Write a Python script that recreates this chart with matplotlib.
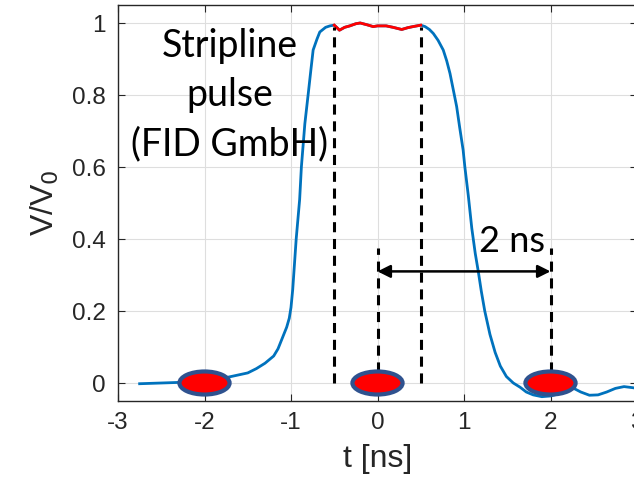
import matplotlib.pyplot as plt
from matplotlib.patches import Ellipse

t_ns = [-2.75, -2.5, -2.25, -2.0, -1.75, -1.5, -1.4, -1.3, -1.2, -1.15, -1.1,
        -1.05, -1.02, -1.0, -0.98, -0.96, -0.94, -0.9, -0.88, -0.84, -0.8,
        -0.77, -0.744, -0.7, -0.667, -0.6, -0.55, -0.5, -0.46, -0.44, -0.38,
        -0.32, -0.25, -0.2, -0.12, -0.05, 0.0, 0.1, 0.18, 0.28, 0.35, 0.41,
        0.5, 0.55, 0.6, 0.645, 0.7, 0.76, 0.8, 0.838, 0.88, 0.915, 0.95, 0.99,
        1.01, 1.05, 1.09, 1.13, 1.165, 1.2, 1.24, 1.3, 1.36, 1.42, 1.49, 1.57,
        1.65, 1.72, 1.8, 1.9, 2.0, 2.1, 2.2, 2.27, 2.35, 2.45, 2.55, 2.65,
        2.75, 2.85, 2.95, 3.0]
v_norm = [-0.002, 0.0, 0.002, 0.005, 0.015, 0.028, 0.04, 0.055, 0.075, 0.095,
          0.125, 0.155, 0.18, 0.21, 0.26, 0.33, 0.40, 0.51, 0.6, 0.72, 0.805,
          0.87, 0.925, 0.955, 0.975, 0.988, 0.992, 0.994, 0.985, 0.98, 0.988,
          0.992, 0.998, 1.0, 0.995, 0.99, 0.992, 0.992, 0.988, 0.982, 0.987,
          0.99, 0.994, 0.99, 0.982, 0.971, 0.952, 0.925, 0.895, 0.86, 0.81,
          0.768, 0.71, 0.647, 0.6, 0.52, 0.43, 0.36, 0.31, 0.255, 0.2, 0.135,
          0.085, 0.047, 0.018, 0.0, -0.012, -0.025, -0.033, -0.038, -0.036,
          -0.03, -0.02, -0.015, -0.025, -0.034, -0.033, -0.025, -0.015, -0.01,
          -0.013, -0.015]

flat_edges = [-0.5, 0.5]      # flat top, dashed markers
sample_times = [-2, 0, 2]     # red ovals
span_edges = [0, 2]           # "2 ns" arrow
x_ticks = [-3, -2, -1, 0, 1, 2, 3]
y_ticks = [0, 0.2, 0.4, 0.6, 0.8, 1]

fig = plt.figure(figsize=(6.34, 4.86), dpi=100)
ax = fig.add_axes([118 / 634, 85 / 486, 519 / 634, 396 / 486])

tick_color = '#262626'
ax.grid(True, color='#dedede', linewidth=0.8)
ax.set_axisbelow(True)

ax.plot(t_ns, v_norm, color='#0072BD', linewidth=2.0, zorder=3)
flat = [(t, v) for t, v in zip(t_ns, v_norm) if flat_edges[0] <= t <= flat_edges[1]]
ax.plot([p[0] for p in flat], [p[1] for p in flat], color='#FF0000',
        linewidth=2.0, zorder=4)

# dashed markers
for t in flat_edges:
    ax.plot([t, t], [0, 0.99], color='k', linewidth=2.2, dashes=(3.3, 2.2),
            zorder=5)
for t in span_edges:
    ax.plot([t, t], [0.03, 0.375], color='k', linewidth=2.2, dashes=(3.3, 2.2),
            zorder=5)

ax.annotate('', xy=(span_edges[0], 0.31), xytext=(span_edges[1], 0.31),
            arrowprops=dict(arrowstyle='<|-|>', color='k', lw=1.8,
                            mutation_scale=19, shrinkA=0, shrinkB=0),
            zorder=6)

for t in sample_times:
    ax.add_patch(Ellipse((t, 0), 0.58, 0.064, facecolor='#FF0000',
                         edgecolor='#2F528F', linewidth=3.0, zorder=7))

ax.text(-1.71, 0.80, 'Stripline\npulse\n(FID GmbH)', family='Lato',
        fontsize=27, ha='center', va='center', linespacing=1.45, zorder=8)
ax.text(1.17, 0.365, '2 ns', family='Lato', fontsize=26, ha='left',
        va='baseline', zorder=8)

ax.set_xlim(-3, 3)
ax.set_ylim(-0.05, 1.05)
ax.set_xticks(x_ticks)
ax.set_yticks(y_ticks)
ax.set_xticklabels([str(x) for x in x_ticks])
ax.set_yticklabels(['0', '0.2', '0.4', '0.6', '0.8', '1'])
ax.tick_params(direction='in', length=5, width=0.8, colors=tick_color,
               labelsize=17.5, top=True, right=True)
ax.tick_params(axis='x', pad=8)
ax.tick_params(axis='y', pad=9)
for lab in ax.get_xticklabels() + ax.get_yticklabels():
    lab.set_family('Liberation Sans')
for s in ax.spines.values():
    s.set_color(tick_color)
    s.set_linewidth(1.0)

ax.set_xlabel('t [ns]', family='Liberation Sans', fontsize=23,
              color=tick_color, labelpad=7)
ax.set_ylabel('V/V$_0$', family='Liberation Sans', fontsize=23,
              color=tick_color, labelpad=8)

plt.savefig('out.png', dpi=100)
